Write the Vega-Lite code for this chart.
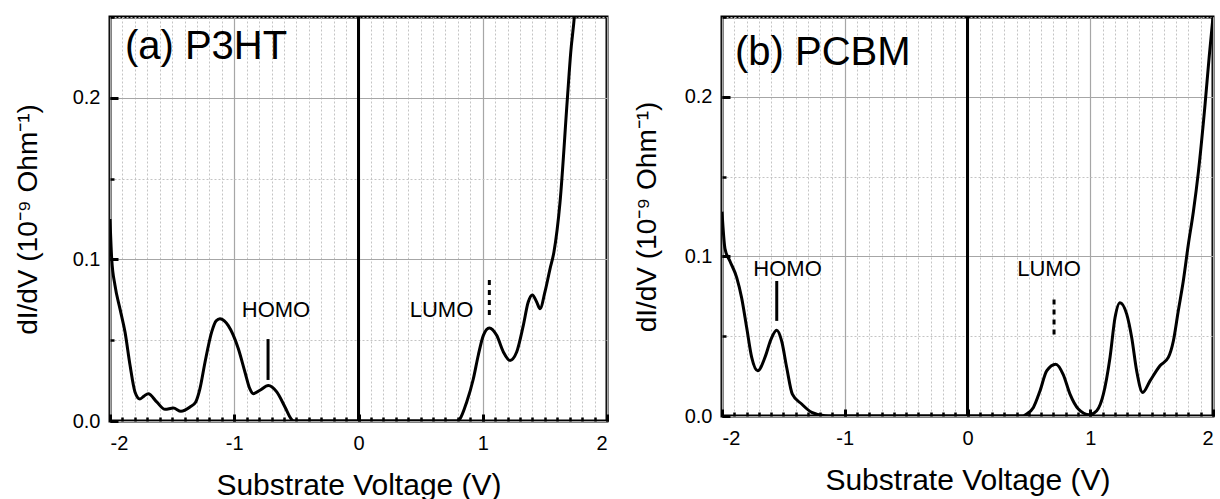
{
  "$schema": "https://vega.github.io/schema/vega-lite/v6.json",
  "padding": {"left": 12, "top": 14, "right": 4, "bottom": 0},
  "spacing": 21,
  "background": "white",
  "config": {
    "font": "Liberation Sans",
    "view": {"stroke": "black", "strokeWidth": 3},
    "axis": {
      "labelColor": "black", "titleColor": "black", "tickColor": "black",
      "labelFont": "Liberation Sans", "titleFont": "Liberation Sans",
      "titleFontWeight": "normal", "domain": false
    },
    "text": {"font": "Liberation Sans", "color": "black"}
  },
  "datasets": {
    "p3ht": [
      {"v": -2.0, "g": 0.125}, {"v": -1.986, "g": 0.1}, {"v": -1.96, "g": 0.084}, {"v": -1.92, "g": 0.0695},
      {"v": -1.879, "g": 0.055}, {"v": -1.839, "g": 0.0346}, {"v": -1.799, "g": 0.018}, {"v": -1.759, "g": 0.0136},
      {"v": -1.725, "g": 0.0155}, {"v": -1.692, "g": 0.0169}, {"v": -1.624, "g": 0.0118}, {"v": -1.557, "g": 0.0072},
      {"v": -1.49, "g": 0.008}, {"v": -1.429, "g": 0.006}, {"v": -1.356, "g": 0.0087}, {"v": -1.31, "g": 0.0118},
      {"v": -1.276, "g": 0.02}, {"v": -1.235, "g": 0.0365}, {"v": -1.182, "g": 0.055}, {"v": -1.145, "g": 0.062},
      {"v": -1.115, "g": 0.0633}, {"v": -1.08, "g": 0.062}, {"v": -1.048, "g": 0.059}, {"v": -0.967, "g": 0.0447},
      {"v": -0.913, "g": 0.03}, {"v": -0.875, "g": 0.02}, {"v": -0.847, "g": 0.0169}, {"v": -0.793, "g": 0.019},
      {"v": -0.726, "g": 0.022}, {"v": -0.658, "g": 0.018}, {"v": -0.592, "g": 0.0087}, {"v": -0.543, "g": 0.0014},
      {"v": -0.52, "g": 0}, {"v": 0.0, "g": 0}, {"v": 0.79, "g": 0},
      {"v": 0.817, "g": 0.0014}, {"v": 0.871, "g": 0.0118}, {"v": 0.924, "g": 0.026}, {"v": 0.964, "g": 0.0407},
      {"v": 1.005, "g": 0.053}, {"v": 1.053, "g": 0.0576}, {"v": 1.112, "g": 0.053}, {"v": 1.166, "g": 0.0427},
      {"v": 1.219, "g": 0.0375}, {"v": 1.273, "g": 0.0427}, {"v": 1.326, "g": 0.059}, {"v": 1.366, "g": 0.0736},
      {"v": 1.399, "g": 0.078}, {"v": 1.434, "g": 0.0736}, {"v": 1.461, "g": 0.0695}, {"v": 1.501, "g": 0.08},
      {"v": 1.541, "g": 0.094}, {"v": 1.573, "g": 0.1046}, {"v": 1.622, "g": 0.1355}, {"v": 1.681, "g": 0.1995},
      {"v": 1.708, "g": 0.228}, {"v": 1.737, "g": 0.25}, {"v": 1.76, "g": 0.275}
    ],
    "pcbm": [
      {"v": -2.0, "g": 0.128}, {"v": -1.976, "g": 0.105}, {"v": -1.935, "g": 0.097}, {"v": -1.88, "g": 0.0867},
      {"v": -1.84, "g": 0.074}, {"v": -1.799, "g": 0.0554}, {"v": -1.758, "g": 0.0367}, {"v": -1.709, "g": 0.0283},
      {"v": -1.65, "g": 0.0367}, {"v": -1.601, "g": 0.048}, {"v": -1.555, "g": 0.0537}, {"v": -1.514, "g": 0.047},
      {"v": -1.473, "g": 0.0304}, {"v": -1.427, "g": 0.0137}, {"v": -1.351, "g": 0.0075}, {"v": -1.269, "g": 0.0023},
      {"v": -1.161, "g": 0.0002}, {"v": -1.1, "g": 0}, {"v": 0.0, "g": 0}, {"v": 0.45, "g": 0},
      {"v": 0.482, "g": 0.0013}, {"v": 0.537, "g": 0.0054}, {"v": 0.591, "g": 0.0158}, {"v": 0.645, "g": 0.0283},
      {"v": 0.719, "g": 0.0325}, {"v": 0.78, "g": 0.026}, {"v": 0.835, "g": 0.0137}, {"v": 0.903, "g": 0.0044},
      {"v": 0.993, "g": 0.0008}, {"v": 1.053, "g": 0.0033}, {"v": 1.107, "g": 0.0137}, {"v": 1.161, "g": 0.0367},
      {"v": 1.202, "g": 0.0617}, {"v": 1.242, "g": 0.071}, {"v": 1.297, "g": 0.0638}, {"v": 1.338, "g": 0.049},
      {"v": 1.378, "g": 0.0283}, {"v": 1.427, "g": 0.0148}, {"v": 1.487, "g": 0.022}, {"v": 1.568, "g": 0.0315},
      {"v": 1.636, "g": 0.0367}, {"v": 1.677, "g": 0.047}, {"v": 1.717, "g": 0.0658}, {"v": 1.758, "g": 0.0846},
      {"v": 1.799, "g": 0.1075}, {"v": 1.84, "g": 0.128}, {"v": 1.881, "g": 0.153}, {"v": 1.935, "g": 0.195},
      {"v": 1.97, "g": 0.226}, {"v": 2.0, "g": 0.25}
    ],
    "zero": [{"v": 0}],
    "titleA": [{"v": -1.88, "g": 0.224, "t": "(a) P3HT"}],
    "titleB": [{"v": -1.894, "g": 0.22, "t": "(b) PCBM"}],
    "textA": [{"v": -0.664, "g": 0.0644, "t": "HOMO"}, {"v": 0.668, "g": 0.0644, "t": "LUMO"}],
    "textB": [{"v": -1.466, "g": 0.0877, "t": "HOMO"}, {"v": 0.664, "g": 0.0877, "t": "LUMO"}],
    "homoA": [{"v": -0.728, "g": 0.0254, "g2": 0.0507}],
    "lumoA": [{"v": 1.053, "g": 0.0656, "g2": 0.089}],
    "homoB": [{"v": -1.554, "g": 0.0596, "g2": 0.0846}],
    "lumoB": [{"v": 0.705, "g": 0.051, "g2": 0.076}]
  },
  "hconcat": [
    {
      "width": 497, "height": 404,
      "resolve": {"axis": {"x": "independent", "y": "independent"}},
      "layer": [
        {
          "data": {"name": "p3ht"},
          "mark": {"type": "line", "stroke": "black", "strokeWidth": 3, "interpolate": "monotone", "clip": true},
          "encoding": {
            "x": {"field": "v", "type": "quantitative", "scale": {"domain": [-2, 2], "nice": false},
              "axis": {"orient": "bottom", "values": [-2,-1.9,-1.8,-1.7,-1.6,-1.5,-1.4,-1.3,-1.2,-1.1,-1,-0.9,-0.8,-0.7,-0.6,-0.5,-0.4,-0.3,-0.2,-0.1,0,0.1,0.2,0.3,0.4,0.5,0.6,0.7,0.8,0.9,1,1.1,1.2,1.3,1.4,1.5,1.6,1.7,1.8,1.9,2],
                "grid": true, "gridDash": [2, 2], "gridColor": "#c4c4c4", "gridWidth": 1, "labels": false, "tickSize": -4, "tickWidth": 2.5, "title": null}},
            "y": {"field": "g", "type": "quantitative", "scale": {"domain": [0, 0.25], "nice": false},
              "axis": {"orient": "left", "values": [0, 0.05, 0.1, 0.15, 0.2, 0.25], "grid": true, "gridDash": [2, 2], "gridColor": "#c4c4c4", "gridWidth": 1, "labels": false, "tickSize": -4, "tickWidth": 2.5, "title": null}}
          }
        },
        {
          "data": {"name": "zero"},
          "mark": {"type": "rule", "stroke": "black", "strokeWidth": 3},
          "encoding": {
            "x": {"field": "v", "type": "quantitative",
              "axis": {"orient": "bottom", "values": [-2, -1, 0, 1, 2], "grid": true, "gridColor": "#a6a6a6", "gridWidth": 1.2, "tickSize": -7, "tickWidth": 3, "labelFontSize": 20, "labelPadding": 19, "labelExpr": "'' + datum.value", "title": "Substrate Voltage (V)", "titleFontSize": 30, "titlePadding": 17}}
          }
        },
        {
          "data": {"name": "homoA"},
          "mark": {"type": "rule", "stroke": "black", "strokeWidth": 3},
          "encoding": {
            "x": {"field": "v", "type": "quantitative", "axis": null},
            "y": {"field": "g", "type": "quantitative",
              "axis": {"orient": "left", "values": [0, 0.1, 0.2], "format": ".1f", "grid": true, "gridColor": "#a6a6a6", "gridWidth": 1.2, "tickSize": -8, "tickWidth": 3, "labelFontSize": 20, "labelPadding": 18, "title": "dI/dV (10⁻⁹ Ohm⁻¹)", "titleFontSize": 28, "titlePadding": 30}},
            "y2": {"field": "g2"}
          }
        },
        {
          "data": {"name": "lumoA"},
          "mark": {"type": "rule", "stroke": "black", "strokeWidth": 3, "strokeDash": [5, 5]},
          "encoding": {
            "x": {"field": "v", "type": "quantitative", "axis": null},
            "y": {"field": "g", "type": "quantitative", "axis": null},
            "y2": {"field": "g2"}
          }
        },
        {
          "data": {"name": "textA"},
          "mark": {"type": "text", "fontSize": 22, "align": "center", "baseline": "alphabetic"},
          "encoding": {
            "x": {"field": "v", "type": "quantitative", "axis": null},
            "y": {"field": "g", "type": "quantitative", "axis": null},
            "text": {"field": "t"}
          }
        },
        {
          "data": {"name": "titleA"},
          "mark": {"type": "text", "fontSize": 40, "align": "left", "baseline": "alphabetic"},
          "encoding": {
            "x": {"field": "v", "type": "quantitative", "axis": null},
            "y": {"field": "g", "type": "quantitative", "axis": null},
            "text": {"field": "t"}
          }
        }
      ]
    },
    {
      "width": 491, "height": 399,
      "resolve": {"axis": {"x": "independent", "y": "independent"}},
      "layer": [
        {
          "data": {"name": "pcbm"},
          "mark": {"type": "line", "stroke": "black", "strokeWidth": 3, "interpolate": "monotone", "clip": true},
          "encoding": {
            "x": {"field": "v", "type": "quantitative", "scale": {"domain": [-2, 2], "nice": false},
              "axis": {"orient": "bottom", "values": [-2,-1.9,-1.8,-1.7,-1.6,-1.5,-1.4,-1.3,-1.2,-1.1,-1,-0.9,-0.8,-0.7,-0.6,-0.5,-0.4,-0.3,-0.2,-0.1,0,0.1,0.2,0.3,0.4,0.5,0.6,0.7,0.8,0.9,1,1.1,1.2,1.3,1.4,1.5,1.6,1.7,1.8,1.9,2],
                "grid": true, "gridDash": [2, 2], "gridColor": "#c4c4c4", "gridWidth": 1, "labels": false, "tickSize": -4, "tickWidth": 2.5, "title": null}},
            "y": {"field": "g", "type": "quantitative", "scale": {"domain": [0, 0.25], "nice": false},
              "axis": {"orient": "left", "values": [0, 0.05, 0.1, 0.15, 0.2, 0.25], "grid": true, "gridDash": [2, 2], "gridColor": "#c4c4c4", "gridWidth": 1, "labels": false, "tickSize": -4, "tickWidth": 2.5, "title": null}}
          }
        },
        {
          "data": {"name": "zero"},
          "mark": {"type": "rule", "stroke": "black", "strokeWidth": 3},
          "encoding": {
            "x": {"field": "v", "type": "quantitative",
              "axis": {"orient": "bottom", "values": [-2, -1, 0, 1, 2], "grid": true, "gridColor": "#a6a6a6", "gridWidth": 1.2, "tickSize": -7, "tickWidth": 3, "labelFontSize": 20, "labelPadding": 19, "labelExpr": "'' + datum.value", "title": "Substrate Voltage (V)", "titleFontSize": 30, "titlePadding": 17}}
          }
        },
        {
          "data": {"name": "homoB"},
          "mark": {"type": "rule", "stroke": "black", "strokeWidth": 3},
          "encoding": {
            "x": {"field": "v", "type": "quantitative", "axis": null},
            "y": {"field": "g", "type": "quantitative",
              "axis": {"orient": "left", "values": [0, 0.1, 0.2], "format": ".1f", "grid": true, "gridColor": "#a6a6a6", "gridWidth": 1.2, "tickSize": -8, "tickWidth": 3, "labelFontSize": 20, "labelPadding": 18, "title": "dI/dV (10⁻⁹ Ohm⁻¹)", "titleFontSize": 28, "titlePadding": 23}},
            "y2": {"field": "g2"}
          }
        },
        {
          "data": {"name": "lumoB"},
          "mark": {"type": "rule", "stroke": "black", "strokeWidth": 3, "strokeDash": [5, 5]},
          "encoding": {
            "x": {"field": "v", "type": "quantitative", "axis": null},
            "y": {"field": "g", "type": "quantitative", "axis": null},
            "y2": {"field": "g2"}
          }
        },
        {
          "data": {"name": "textB"},
          "mark": {"type": "text", "fontSize": 22, "align": "center", "baseline": "alphabetic"},
          "encoding": {
            "x": {"field": "v", "type": "quantitative", "axis": null},
            "y": {"field": "g", "type": "quantitative", "axis": null},
            "text": {"field": "t"}
          }
        },
        {
          "data": {"name": "titleB"},
          "mark": {"type": "text", "fontSize": 40, "align": "left", "baseline": "alphabetic"},
          "encoding": {
            "x": {"field": "v", "type": "quantitative", "axis": null},
            "y": {"field": "g", "type": "quantitative", "axis": null},
            "text": {"field": "t"}
          }
        }
      ]
    }
  ]
}
